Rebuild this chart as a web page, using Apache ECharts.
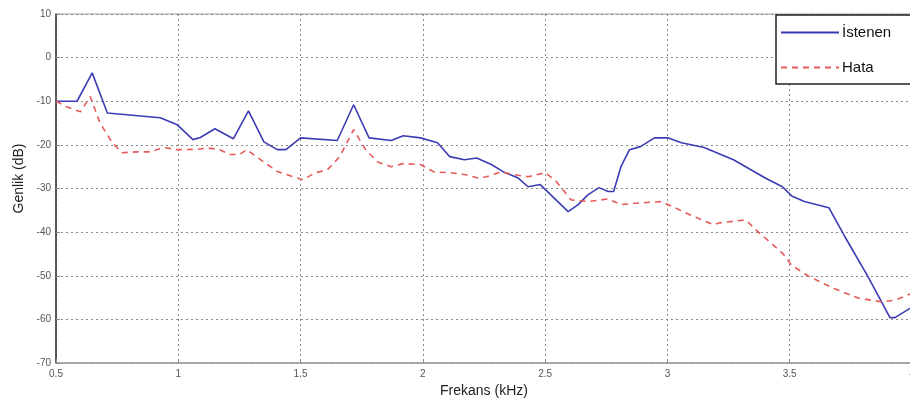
<!DOCTYPE html>
<html>
<head>
<meta charset="utf-8">
<script src="https://cdn.jsdelivr.net/npm/echarts@6/dist/echarts.min.js"></script>
<style>
html,body{margin:0;padding:0;background:#fff;}
#c{width:910px;height:410px;}
</style>
</head>
<body>
<div id="c"></div>
<script>
// Data
const istenenX = [0.5, 0.586, 0.648, 0.71, 0.926, 0.996, 1.06, 1.09, 1.15, 1.225, 1.287, 1.35, 1.405, 1.44, 1.5, 1.65, 1.717, 1.78, 1.87, 1.92, 1.99, 2.06, 2.11, 2.17, 2.22, 2.28, 2.33, 2.39, 2.43, 2.48, 2.594, 2.635, 2.676, 2.72, 2.758, 2.78, 2.81, 2.845, 2.89, 2.947, 3.004, 3.057, 3.15, 3.27, 3.4, 3.47, 3.508, 3.56, 3.66, 3.725, 3.82, 3.91, 3.93, 4.0];
const istenenY = [-10, -10, -3.5, -12.7, -13.8, -15.4, -18.8, -18.3, -16.3, -18.6, -12.2, -19.3, -21.1, -21.1, -18.4, -19, -10.8, -18.4, -19, -17.9, -18.4, -19.5, -22.7, -23.4, -23, -24.5, -26.2, -27.6, -29.6, -29.1, -35.3, -33.7, -31.4, -29.8, -30.7, -30.7, -25, -21.1, -20.4, -18.4, -18.4, -19.5, -20.6, -23.4, -27.6, -29.6, -31.7, -33, -34.4, -41, -50.2, -59.6, -59.6, -57.2];
const hataX = [0.5, 0.545, 0.6, 0.64, 0.68, 0.73, 0.77, 0.83, 0.885, 0.94, 0.996, 1.08, 1.12, 1.17, 1.21, 1.25, 1.28, 1.336, 1.405, 1.47, 1.51, 1.56, 1.61, 1.66, 1.717, 1.766, 1.815, 1.87, 1.92, 1.99, 2.045, 2.115, 2.17, 2.225, 2.26, 2.32, 2.37, 2.43, 2.5, 2.54, 2.606, 2.676, 2.757, 2.81, 2.89, 2.975, 3.03, 3.11, 3.19, 3.21, 3.32, 3.37, 3.47, 3.508, 3.58, 3.68, 3.78, 3.877, 3.93, 4.0];
const hataY = [-10, -11.3, -12.4, -8.9, -15, -19.5, -21.8, -21.6, -21.6, -20.6, -21.1, -21, -20.7, -21.1, -22.2, -22.2, -21.1, -23.4, -26.1, -27.3, -28, -26.4, -25.7, -22.7, -16.5, -21.1, -23.9, -25, -24.3, -24.5, -26.2, -26.4, -26.8, -27.6, -27.3, -26.2, -26.8, -27.3, -26.4, -28, -32.6, -33, -32.4, -33.7, -33.3, -33, -34.4, -36.5, -38.3, -37.9, -37.2, -39.9, -44.8, -47.6, -50.2, -52.9, -55.1, -56, -55.6, -54];
const seriesNames = ['İstenen', 'Hata'];

const pair = (xs, ys) => xs.map((x, i) => [x, ys[i]]);

const chart = echarts.init(document.getElementById('c'), null, {renderer: 'canvas'});
const font = "'Liberation Sans Narrow', 'Liberation Sans', Arial, sans-serif";
const gridLine = {show: true, lineStyle: {color: '#8a8a8a', type: [2, 3], width: 1}};
chart.setOption({
  backgroundColor: '#ffffff',
  animation: false,
  grid: {left: 56, right: -2, top: 14, bottom: 47, show: true, borderColor: '#a0a0a0', borderWidth: 1, containLabel: false, outerBoundsMode: 'none'},
  legend: {
    data: seriesNames,
    orient: 'vertical',
    left: 776, top: 15,
    padding: [10, 30, 9, 4],
    itemWidth: 58, itemHeight: 14, itemGap: 20,
    itemStyle: {opacity: 0},
    borderColor: '#222', borderWidth: 1.5, backgroundColor: '#fff',
    textStyle: {fontFamily: font, fontSize: 15, color: '#111', padding: [0, 0, 0, -2]}
  },
  xAxis: {
    type: 'value', min: 0.5, max: 4, interval: 0.5,
    name: 'Frekans (kHz)', nameLocation: 'middle', nameGap: 21,
    nameTextStyle: {fontFamily: font, fontSize: 14, color: '#222'},
    axisLine: {show: true, onZero: false, lineStyle: {color: '#a0a0a0', width: 1.5}},
    axisTick: {show: true, inside: true, length: 4, lineStyle: {color: '#888'}},
    axisLabel: {fontFamily: font, fontSize: 10, color: '#555', margin: 6},
    splitLine: gridLine
  },
  yAxis: {
    type: 'value', min: -70, max: 10, interval: 10,
    name: 'Genlik (dB)', nameLocation: 'middle', nameGap: 30,
    nameTextStyle: {fontFamily: font, fontSize: 14, color: '#222', padding: [0, 0, 0, 20]},
    axisLine: {show: true, onZero: false, lineStyle: {color: '#333', width: 1.5}},
    axisTick: {show: true, inside: true, length: 4, lineStyle: {color: '#888'}},
    axisLabel: {fontFamily: font, fontSize: 10, color: '#555', margin: 5},
    splitLine: gridLine
  },
  series: [
    {
      name: seriesNames[0], type: 'line', symbol: 'none',
      data: pair(istenenX, istenenY),
      lineStyle: {color: '#3c3cb4', width: 1.6},
      itemStyle: {color: '#3c3cb4'}
    },
    {
      name: seriesNames[1], type: 'line', symbol: 'none',
      data: pair(hataX, hataY),
      lineStyle: {color: '#e65a5a', width: 1.6, type: [6, 5]},
      itemStyle: {color: '#e65a5a'}
    }
  ]
});
</script>
</body>
</html>
